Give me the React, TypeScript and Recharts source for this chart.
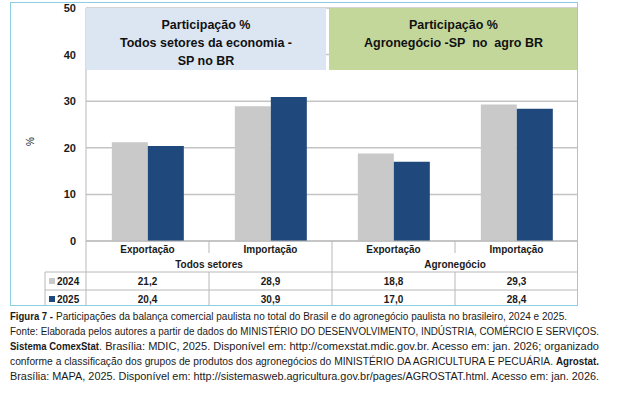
import { BarChart, Bar, XAxis, YAxis, CartesianGrid } from "recharts";

const categories = ["Exportação", "Importação", "Exportação", "Importação"];
const groups = ["Todos setores", "Todos setores", "Agronegócio", "Agronegócio"];
const values2024 = [21.2, 28.9, 18.8, 29.3];
const values2025 = [20.4, 30.9, 17.0, 28.4];
const yTicks = [0, 10, 20, 30, 40, 50];

const data = categories.map((cat, i) => ({
  key: `${groups[i]}-${cat}`,
  cat,
  group: groups[i],
  y2024: values2024[i],
  y2025: values2025[i],
}));

const GRAY = "#c9c9c9";
const NAVY = "#1f487c";
const LINE = "#b8b8b8";
const TEXT = "#1a1a1a";
const TABLE_FONT = "'Liberation Sans', Arial, sans-serif";

const fmt = (v: number) => v.toFixed(1).replace(".", ",");

const TableTick = (props: any) => {
  const { x, y, payload } = props;
  const i: number = payload.index;
  const half: number = payload.offset || 61.5;
  const left = x - half;
  const right = x + half;
  const r1 = y + 31;
  const r2 = y + 49;
  const bottom = y + 65;
  const row = data[i];
  const isGroupStart = i === 0 || groups[i] !== groups[i - 1];
  const isGroupEnd = i === data.length - 1 || groups[i] !== groups[i + 1];
  const txt = { fontFamily: TABLE_FONT, fontSize: 10, fontWeight: 700, fill: TEXT, textAnchor: "middle" as const };
  return (
    <g>
      <text x={x} y={y + 12} {...txt}>{row.cat}</text>
      {isGroupStart && (
        <text x={right} y={y + 27} {...txt}>{row.group}</text>
      )}
      <line x1={i === 0 ? left - 41 : left} x2={right} y1={r1} y2={r1} stroke={LINE} />
      <line x1={i === 0 ? left - 41 : left} x2={right} y1={r2} y2={r2} stroke={LINE} />
      {i === 0 && (
        <g>
          <line x1={left} x2={left} y1={y} y2={bottom} stroke={LINE} />
          <line x1={left - 41} x2={left - 41} y1={r1} y2={bottom} stroke={LINE} />
          <rect x={left - 37} y={r1 + 6} width={6} height={6} fill={GRAY} />
          <text x={left - 29} y={r1 + 13} {...txt} textAnchor="start">2024</text>
          <rect x={left - 37} y={r2 + 6} width={6} height={6} fill={NAVY} />
          <text x={left - 29} y={r2 + 13} {...txt} textAnchor="start">2025</text>
        </g>
      )}
      {!isGroupEnd && (
        <g>
          <line x1={right} x2={right} y1={y} y2={y + 12} stroke={LINE} />
          <line x1={right} x2={right} y1={r1} y2={bottom} stroke={LINE} />
        </g>
      )}
      {isGroupEnd && i !== data.length - 1 && (
        <line x1={right} x2={right} y1={y} y2={bottom} stroke={LINE} />
      )}
      <text x={x} y={r1 + 13} {...txt}>{fmt(row.y2024)}</text>
      <text x={x} y={r2 + 13} {...txt}>{fmt(row.y2025)}</text>
    </g>
  );
};

const boxText = {
  fontFamily: "'Liberation Sans', Arial, sans-serif",
  fontWeight: 700,
  fontSize: 12.5,
  lineHeight: "18px",
  color: "#111",
  textAlign: "center" as const,
  paddingTop: 8,
  boxSizing: "border-box" as const,
  position: "absolute" as const,
  top: 8,
  height: 62,
  whiteSpace: "pre" as const,
};

const capFont = "'Liberation Sans Narrow', 'Liberation Sans', Arial, sans-serif";

const App = () => {
  return (
    <div style={{ position: "absolute", left: 0, top: 0, width: 621, height: 394, background: "#fff" }}>
      <BarChart
        width={621}
        height={306}
        data={data}
        margin={{ top: 8, right: 43, left: 0, bottom: 0 }}
        barCategoryGap="21%"
        barGap={0}
      >
        <CartesianGrid vertical={false} stroke="#c4c4c4" strokeWidth={1.5} />
        <YAxis
          width={86}
          domain={[0, 50]}
          ticks={yTicks}
          interval={0}
          tickLine={false}
          tickSize={0}
          tickMargin={10}
          axisLine={{ stroke: LINE }}
          tick={{ fontFamily: TABLE_FONT, fontSize: 11, fontWeight: 700, fill: TEXT }}
        />
        <XAxis
          dataKey="key"
          height={65}
          interval={0}
          tickLine={false}
          tickSize={0}
          tickMargin={0}
          axisLine={{ stroke: LINE }}
          tick={<TableTick />}
        />
        <Bar dataKey="y2024" fill={GRAY} isAnimationActive={false} />
        <Bar dataKey="y2025" fill={NAVY} isAnimationActive={false} />
      </BarChart>

      <div style={{ ...boxText, left: 86, width: 240, background: "#dce6f2" }}>
        {"Participação %\nTodos setores da economia -\nSP no BR"}
      </div>
      <div style={{ ...boxText, left: 329, width: 249, background: "#c4d79b" }}>
        {"Participação %\nAgronegócio -SP  no  agro BR"}
      </div>

      <div
        style={{
          position: "absolute",
          left: 26,
          top: 136,
          fontFamily: TABLE_FONT,
          fontSize: 10,
          color: TEXT,
          transform: "rotate(-90deg)",
        }}
      >
        %
      </div>

      <div
        style={{
          position: "absolute",
          left: 10,
          top: 2,
          width: 568,
          height: 304,
          border: "1px solid #8ccfe2",
          boxSizing: "border-box",
          pointerEvents: "none",
        }}
      />

      <svg width={621} height={394} style={{ position: "absolute", left: 0, top: 0, pointerEvents: "none" }}>
        <g fontFamily={capFont} fontSize={10} fill="#1a1a1a">
          <text x={10} y={320} textLength={43} lengthAdjust="spacingAndGlyphs" fontWeight={700}>
            Figura 7 -
          </text>
          <text x={56} y={320} textLength={511} lengthAdjust="spacingAndGlyphs">
            Participações da balança comercial paulista no total do Brasil e do agronegócio paulista no brasileiro, 2024 e 2025.
          </text>
          <text x={10} y={335} textLength={589} lengthAdjust="spacingAndGlyphs">
            Fonte: Elaborada pelos autores a partir de dados do MINISTÉRIO DO DESENVOLVIMENTO, INDÚSTRIA, COMÉRCIO E SERVIÇOS.
          </text>
          <text x={10} y={350} textLength={89} lengthAdjust="spacingAndGlyphs" fontWeight={700}>
            Sistema ComexStat
          </text>
          <text x={99} y={350} textLength={500} lengthAdjust="spacingAndGlyphs">
            . Brasília: MDIC, 2025. Disponível em: http://comexstat.mdic.gov.br. Acesso em: jan. 2026; organizado
          </text>
          <text x={10} y={365} textLength={543} lengthAdjust="spacingAndGlyphs">
            conforme a classificação dos grupos de produtos dos agronegócios do MINISTÉRIO DA AGRICULTURA E PECUÁRIA.
          </text>
          <text x={556} y={365} textLength={43} lengthAdjust="spacingAndGlyphs" fontWeight={700}>
            Agrostat.
          </text>
          <text x={10} y={380} textLength={589} lengthAdjust="spacingAndGlyphs">
            Brasília: MAPA, 2025. Disponível em: http://sistemasweb.agricultura.gov.br/pages/AGROSTAT.html. Acesso em: jan. 2026.
          </text>
        </g>
      </svg>
    </div>
  );
};

export default App;
